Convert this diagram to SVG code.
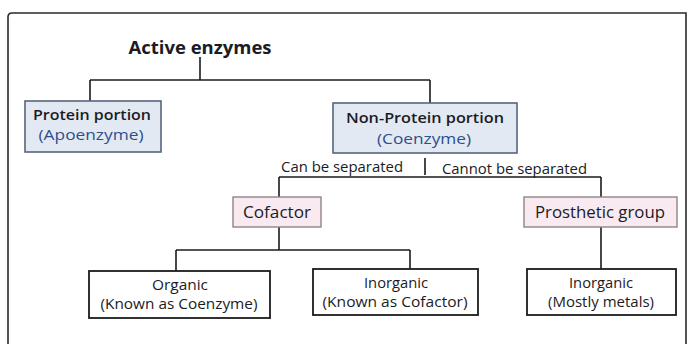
<svg xmlns="http://www.w3.org/2000/svg" width="688" height="344" viewBox="0 0 688 344">
  <style>
    text { font-family: "Open Sans", "Liberation Sans", sans-serif; fill: #1b1b24; text-anchor: middle; }
    .title { font-size: 17px; font-weight: 700; }
    .lbl { font-size: 15px; font-weight: 600; }
    .mid { font-size: 16.5px; font-weight: 500; }
    .sub { font-size: 14px; fill: #2b4f8c; }
    .small { font-size: 14px; font-weight: 500; }
    .edge { font-size: 14.5px; font-weight: 500; text-anchor: start; }
    .blue { fill: #e3e9f2; stroke: #56657c; stroke-width: 1.6; }
    .pink { fill: #f8eaf0; stroke: #8f8489; stroke-width: 1.4; }
    .plain { fill: #ffffff; stroke: #1b1b1b; stroke-width: 1.8; }
    .conn { fill: none; stroke: #1b1b1b; stroke-width: 1.6; }
  </style>

  <rect width="688" height="344" fill="#ffffff"/>
  <!-- outer frame -->
  <path d="M8,360 V17 Q8,13 12,13 H686 V360" fill="none" stroke="#2a2a2a" stroke-width="1.6"/>

  <g id="active-enzymes">
    <text class="title" x="200" y="54" textLength="143" lengthAdjust="spacingAndGlyphs">Active enzymes</text>
  </g>

  <g id="connectors">
    <path class="conn" d="M200,57 V80 M90,80 H430 M90,80 V101 M430,80 V103"/>
    <path class="conn" d="M425,158 V175 M279,177 H601 M279,177 V197 M601,177 V197"/>
    <path class="conn" d="M279,227 V250 M176,250 H410 M176,250 V271 M410,250 V269"/>
    <path class="conn" d="M601,227 V269"/>
    <text class="edge" x="281" y="172" textLength="122" lengthAdjust="spacingAndGlyphs">Can be separated</text>
    <text class="edge" x="442" y="174" textLength="145" lengthAdjust="spacingAndGlyphs">Cannot be separated</text>
  </g>

  <g id="protein-portion">
    <rect class="blue" x="25" y="101" width="136" height="51"/>
    <text class="lbl" x="92" y="120" textLength="118" lengthAdjust="spacingAndGlyphs">Protein portion</text>
    <text class="sub" x="91" y="140" textLength="105" lengthAdjust="spacingAndGlyphs">(Apoenzyme)</text>
  </g>

  <g id="non-protein-portion">
    <rect class="blue" x="333" y="103" width="184" height="50"/>
    <text class="lbl" x="425" y="123" textLength="158" lengthAdjust="spacingAndGlyphs">Non-Protein portion</text>
    <text class="sub" x="424" y="144" textLength="94" lengthAdjust="spacingAndGlyphs">(Coenzyme)</text>
  </g>

  <g id="cofactor">
    <rect class="pink" x="233" y="197" width="88" height="30"/>
    <text class="mid" x="277" y="218" textLength="68" lengthAdjust="spacingAndGlyphs">Cofactor</text>
  </g>

  <g id="prosthetic-group">
    <rect class="pink" x="524" y="197" width="153" height="30"/>
    <text class="mid" x="600" y="218" textLength="130" lengthAdjust="spacingAndGlyphs">Prosthetic group</text>
  </g>

  <g id="organic">
    <rect class="plain" x="89" y="271" width="181" height="47"/>
    <text class="small" x="180" y="290" textLength="56" lengthAdjust="spacingAndGlyphs">Organic</text>
    <text class="small" x="179" y="309" textLength="157" lengthAdjust="spacingAndGlyphs">(Known as Coenzyme)</text>
  </g>

  <g id="inorganic-cofactor">
    <rect class="plain" x="313" y="269" width="165" height="46"/>
    <text class="small" x="396" y="288" textLength="64" lengthAdjust="spacingAndGlyphs">Inorganic</text>
    <text class="small" x="395" y="307" textLength="145" lengthAdjust="spacingAndGlyphs">(Known as Cofactor)</text>
  </g>

  <g id="inorganic-metals">
    <rect class="plain" x="527" y="269" width="149" height="46"/>
    <text class="small" x="601" y="288" textLength="64" lengthAdjust="spacingAndGlyphs">Inorganic</text>
    <text class="small" x="601" y="307" textLength="106" lengthAdjust="spacingAndGlyphs">(Mostly metals)</text>
  </g>
</svg>
